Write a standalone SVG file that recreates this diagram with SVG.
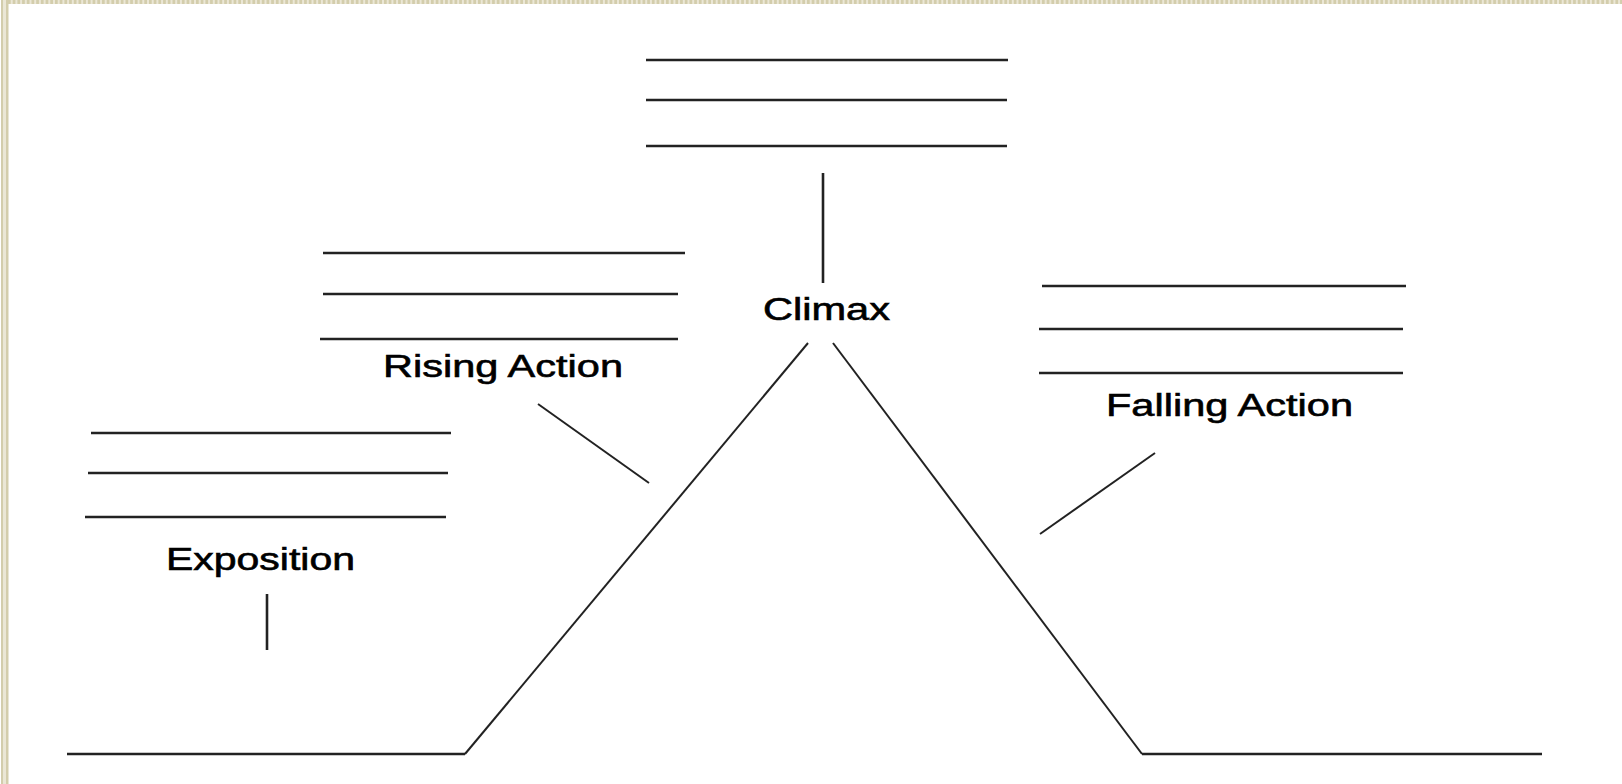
<svg xmlns="http://www.w3.org/2000/svg" width="1622" height="784" viewBox="0 0 1622 784">
<style>
.ln{stroke:#222;stroke-width:2.6;fill:none;stroke-linecap:butt}
.dg{stroke:#222;stroke-width:2;fill:none}
.lb{font-family:"Liberation Sans",Arial,sans-serif;font-size:31px;fill:#000;stroke:#000;stroke-width:0.6}
</style>
<rect width="1622" height="784" fill="#ffffff"/>
<g id="border">
<rect x="1" y="0" width="2.5" height="784" fill="#d3cdac"/>
<rect x="3.5" y="0" width="2.5" height="784" fill="#ebe7d6"/>
<rect x="6" y="0" width="2.5" height="784" fill="#d3cdac"/>
<line x1="8" y1="2" x2="1622" y2="2" stroke="#ebe7d6" stroke-width="4"/>
<line x1="8" y1="2" x2="1622" y2="2" stroke="#d3cdac" stroke-width="4" stroke-dasharray="2.7 2"/>
</g>
<g id="climax">
<line class="ln" x1="646" y1="60" x2="1008" y2="60"/>
<line class="ln" x1="646" y1="100" x2="1007" y2="100"/>
<line class="ln" x1="646" y1="146" x2="1007" y2="146"/>
<text class="lb" x="763" y="320" textLength="127" lengthAdjust="spacingAndGlyphs">Climax</text>
</g>
<g id="rising-action">
<line class="ln" x1="323" y1="253" x2="685" y2="253"/>
<line class="ln" x1="323" y1="294" x2="678" y2="294"/>
<line class="ln" x1="320" y1="339" x2="678" y2="339"/>
<text class="lb" x="383" y="377" textLength="240" lengthAdjust="spacingAndGlyphs">Rising Action</text>
</g>
<g id="exposition">
<line class="ln" x1="91" y1="433" x2="451" y2="433"/>
<line class="ln" x1="88" y1="473" x2="448" y2="473"/>
<line class="ln" x1="85" y1="517" x2="446" y2="517"/>
<text class="lb" x="166" y="570" textLength="189" lengthAdjust="spacingAndGlyphs">Exposition</text>
</g>
<g id="falling-action">
<line class="ln" x1="1042" y1="286" x2="1406" y2="286"/>
<line class="ln" x1="1039" y1="329" x2="1403" y2="329"/>
<line class="ln" x1="1039" y1="373" x2="1403" y2="373"/>
<text class="lb" x="1106" y="416" textLength="247" lengthAdjust="spacingAndGlyphs">Falling Action</text>
</g>
<g id="connectors">
<polyline class="ln" points="67,754 465,754"/>
<line class="dg" x1="465" y1="754" x2="808" y2="343"/>
<line class="dg" x1="833" y1="343" x2="1142" y2="754"/>
<polyline class="ln" points="1142,754 1542,754"/>
<line class="ln" x1="823" y1="173" x2="823" y2="283"/>
<line class="ln" x1="267" y1="594" x2="267" y2="650"/>
<line class="dg" x1="538" y1="404" x2="649" y2="483"/>
<line class="dg" x1="1155" y1="453" x2="1040" y2="534"/>
</g>
</svg>
